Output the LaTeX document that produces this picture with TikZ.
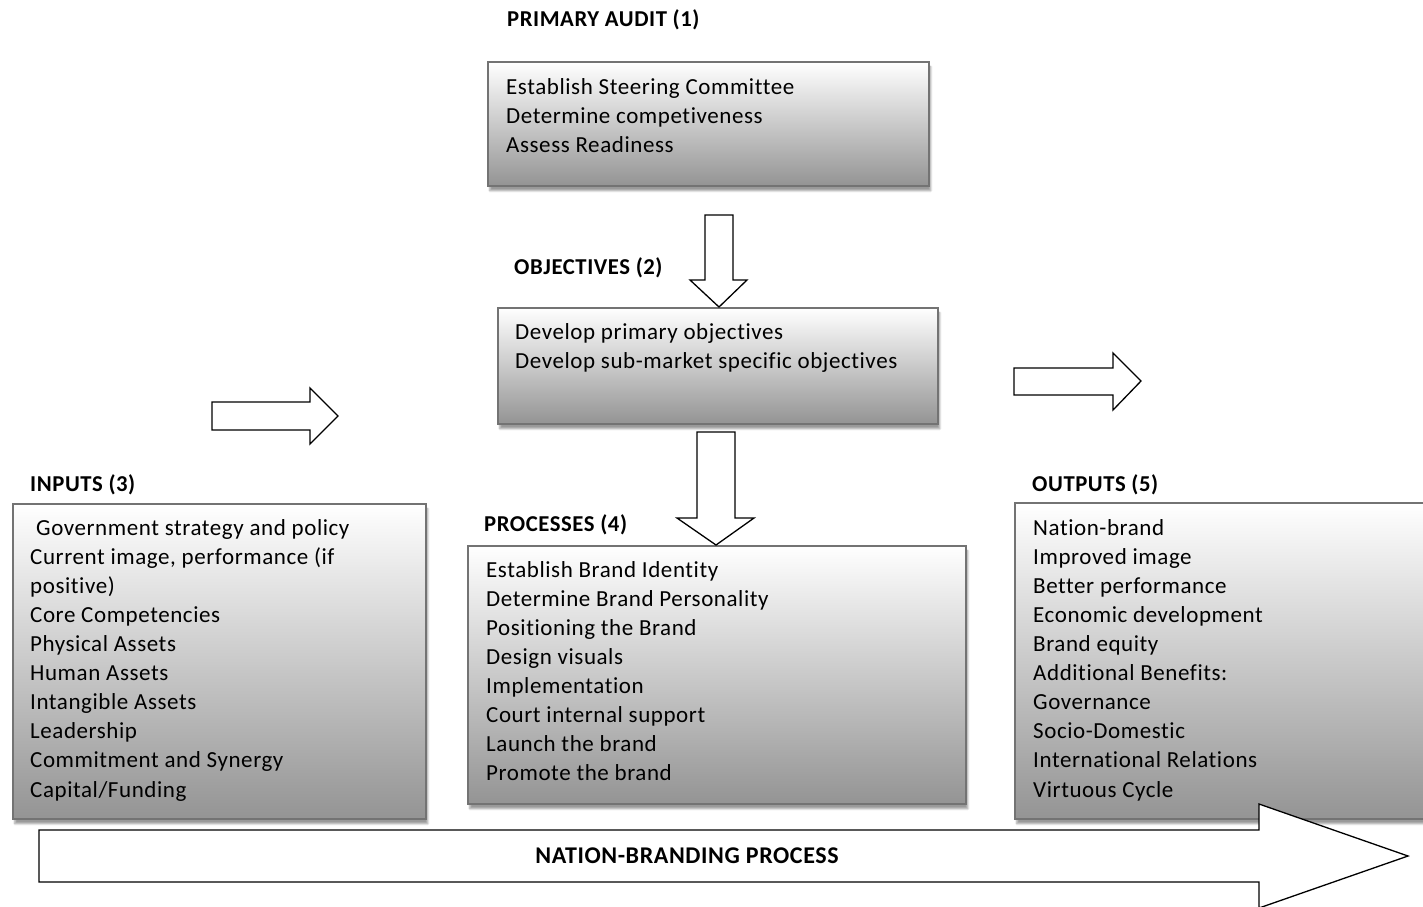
\documentclass[tikz,border=0pt]{standalone}
\usepackage{fontspec}
\setmainfont{Carlito}[LetterSpace=2.5, Ligatures=NoCommon]
\usetikzlibrary{shadows.blur}

\tikzset{
  panel/.style={draw=black!55, line width=1.5pt, top color=white, bottom color=black!42,
    anchor=north west, inner sep=0pt,
    blur shadow={shadow xshift=2pt, shadow yshift=-5pt, shadow blur steps=6, shadow opacity=40}},
  items/.style={anchor=north west, align=left, inner sep=0pt, font=\fontsize{23}{29.1}\selectfont},
  heading/.style={anchor=west, inner sep=0pt, font=\fontsize{22.7}{26}\selectfont\bfseries},
  blockarrow/.style={draw=black, line width=1.3pt, fill=white, line join=miter},
}

\begin{document}
\begin{tikzpicture}[x=1pt, y=-1pt]
			\useasboundingbox (0, 0) rectangle (1423, 906);
			\clip (0, 0) rectangle (1423, 906);
			% boxes
			\node[panel, minimum width=441, minimum height=124] (audit) at (487, 61) {};
			\node[panel, minimum width=440, minimum height=116] (objectives) at (497, 307) {};
			\node[panel, minimum width=413, minimum height=315] (inputs) at (12, 503) {};
			\node[panel, minimum width=498, minimum height=258] (processes) at (467, 545) {};
			\node[panel, minimum width=430, minimum height=316] (outputs) at (1014, 502) {};
			% headings
			\node[heading] (auditHead) at (507, 20) {PRIMARY AUDIT (1)};
			\node[heading] (objectivesHead) at (514, 268) {OBJECTIVES (2)};
			\node[heading] (inputsHead) at (30, 485) {INPUTS (3)};
			\node[heading] (processesHead) at (484, 525) {PROCESSES (4)};
			\node[heading] (outputsHead) at (1032, 485) {OUTPUTS (5)};
			% lists
			\node[items] (auditList) at (506, 78) {Establish Steering Committee\\Determine competiveness\\Assess Readiness};
			\node[items] (objectivesList) at (515, 323) {Develop primary objectives\\Develop sub-market specific objectives};
			\node[items] (inputsList) at (30, 519) {\hspace{6pt}Government strategy and policy\\Current image, performance (if\\positive)\\Core Competencies\\Physical Assets\\Human Assets\\Intangible Assets\\Leadership\\Commitment and Synergy\\Capital/Funding};
			\node[items] (processesList) at (486, 561) {Establish Brand Identity\\Determine Brand Personality\\Positioning the Brand\\Design visuals\\Implementation\\Court internal support\\Launch the brand\\Promote the brand};
			\node[items] (outputsList) at (1033, 519) {Nation-brand\\Improved image\\Better performance\\Economic development\\Brand equity\\Additional Benefits:\\Governance\\Socio-Domestic\\International Relations\\Virtuous Cycle};
			% block arrows
			\draw[blockarrow] (705, 215) -- (733, 215) -- (733, 280) -- (747, 280) -- (719, 307) -- (690, 280) -- (705, 280) -- cycle;
			\draw[blockarrow] (697, 432) -- (735, 432) -- (735, 518) -- (754, 518) -- (716, 545) -- (677, 518) -- (697, 518) -- cycle;
			\draw[blockarrow] (212, 402) -- (310, 402) -- (310, 388) -- (338, 416) -- (310, 444) -- (310, 430) -- (212, 430) -- cycle;
			\draw[blockarrow] (1014, 368) -- (1113, 368) -- (1113, 353) -- (1141, 381) -- (1113, 410) -- (1113, 395) -- (1014, 395) -- cycle;
			\draw[blockarrow] (39, 830) -- (1259, 830) -- (1259, 804) -- (1408, 856) -- (1259, 908) -- (1259, 882) -- (39, 882) -- cycle;
			\node[heading, anchor=center, font=\fontsize{24}{28}\selectfont\bfseries] (processLabel) at (687, 856) {NATION-BRANDING PROCESS};
\end{tikzpicture}
\end{document}
